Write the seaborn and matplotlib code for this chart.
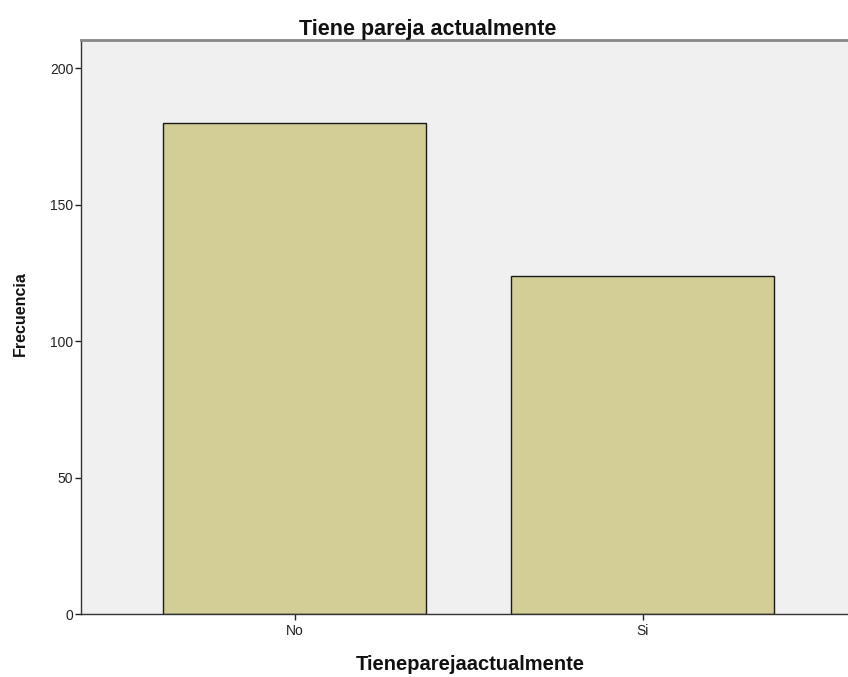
import numpy as np
import seaborn as sns
import pandas as pd
import matplotlib.pyplot as plt

categorias = ['No', 'Si']
frecuencias = [180, 124]

df = pd.DataFrame({'Tieneparejaactualmente': categorias, 'Frecuencia': frecuencias})

sns.set_style('white')
plt.rcParams['font.family'] = ['Liberation Sans', 'DejaVu Sans']

fig = plt.figure(figsize=(8.48, 6.77), dpi=100)
ax = fig.add_axes([81/848, 63/677, 1 - 81/848, 574/677])
ax.set_facecolor('#F0F0F0')

sns.barplot(data=df, x='Tieneparejaactualmente', y='Frecuencia', color='#D2CE96',
            edgecolor='#1a1a1a', linewidth=1.0, width=0.756, saturation=1, ax=ax)

ax.set_xlim(-0.615, 1.59)
ax.set_ylim(0, 210.4)
ax.set_yticks([0, 50, 100, 150, 200])
ax.tick_params(axis='both', direction='out', length=4.5, width=1, color='#222222',
               labelsize=10, labelcolor='#222222', bottom=True, left=True)
ax.tick_params(axis='y', pad=1)
ax.tick_params(axis='x', pad=3)
for s in ['left', 'bottom']:
    ax.spines[s].set_color('#333333')
    ax.spines[s].set_linewidth(1)
ax.spines['top'].set_color('#888888')
ax.spines['top'].set_linewidth(2)
ax.spines['right'].set_visible(False)

fig.text(428/848, (677-35)/677, 'Tiene pareja actualmente', fontsize=15.5,
         fontweight='bold', ha='center', va='baseline', color='#111111')
ax.set_xlabel('Tieneparejaactualmente', fontsize=14.5, fontweight='bold', color='#111111')
ax.xaxis.set_label_coords(0.507, -0.072)
ax.set_ylabel('Frecuencia', fontsize=11.5, fontweight='bold', color='#111111')
ax.yaxis.set_label_coords(-0.0795, 0.523)
ax.yaxis.label.set_va('center')

fig.savefig('out.png', dpi=100)
